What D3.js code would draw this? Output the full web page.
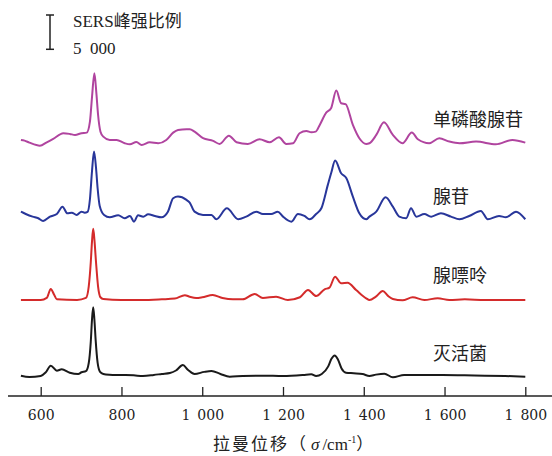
<!DOCTYPE html>
<html>
<head>
<meta charset="utf-8">
<script src="https://cdn.jsdelivr.net/npm/d3@7"></script>
<style>
  body { margin: 0; background: #fff; }
  svg { display: block; }
  .tick line { stroke: #222; stroke-width: 1.3; }
  .tick text { font-family: "DejaVu Serif", serif; font-size: 14px; fill: #222; }
  .label { font-family: "Noto Sans CJK SC", sans-serif; font-size: 18px; fill: #222; }
</style>
</head>
<body>
<svg id="canvas" width="552" height="456"></svg>
<script>
// spectra: [wavenumber, intensity]
const inactivated = [[551,50],[572,-140],[600,0],[612,500],[625,1500],[640,770],[652,980],[672,480],[693,290],[701,540],[712,700],[719,1900],[724,5000],[727,8200],[730,10030],[733,8200],[736,5300],[741,1900],[747,600],[755,300],[770,200],[800,150],[830,100],[853,0],[880,150],[900,300],[920,440],[935,800],[952,1600],[965,880],[981,290],[1005,600],[1023,730],[1045,300],[1068,-100],[1100,0],[1150,50],[1200,0],[1250,150],[1270,250],[1282,0],[1296,290],[1312,1400],[1320,2500],[1328,3000],[1336,2400],[1345,1100],[1356,480],[1375,400],[1397,290],[1414,0],[1430,200],[1451,340],[1472,-190],[1500,150],[1550,150],[1595,150],[1650,100],[1700,50],[1750,0],[1800,-100]];

const adenine = [[551,0],[600,0],[615,300],[625,1600],[633,800],[640,100],[690,0],[712,300],[719,2000],[724,5500],[727,8500],[730,10400],[733,8800],[737,5500],[742,2000],[748,400],[755,150],[800,0],[850,0],[900,100],[932,200],[957,700],[969,480],[985,300],[1000,400],[1026,730],[1050,300],[1076,100],[1100,100],[1130,880],[1150,290],[1183,480],[1212,0],[1242,400],[1262,1460],[1282,580],[1303,1560],[1315,1800],[1329,3400],[1344,2430],[1360,2520],[1381,1460],[1406,250],[1414,0],[1430,500],[1447,1300],[1460,600],[1472,150],[1496,-40],[1521,390],[1550,0],[1583,250],[1612,0],[1650,100],[1700,0],[1750,0],[1800,0]];

const adenosine = [[551,630],[563,290],[580,-100],[594,-340],[606,-730],[623,-100],[640,290],[654,1360],[666,390],[677,480],[689,150],[701,630],[709,480],[716,600],[722,2500],[727,6500],[732,9390],[737,7000],[741,4000],[746,1500],[757,150],[771,-190],[792,100],[808,-340],[821,0],[831,-830],[841,100],[854,-100],[866,250],[883,0],[899,-190],[915,630],[928,2580],[940,2820],[961,2340],[969,1940],[981,630],[1002,150],[1023,150],[1035,-480],[1061,1120],[1089,-480],[1109,-100],[1134,630],[1150,290],[1171,290],[1187,630],[1200,-100],[1221,-830],[1237,290],[1253,0],[1266,-480],[1282,290],[1295,1120],[1311,4530],[1320,6400],[1329,8080],[1344,6230],[1357,5500],[1373,2820],[1389,390],[1406,-480],[1414,-100],[1431,630],[1454,2730],[1472,1360],[1488,-100],[1505,-340],[1517,1120],[1530,-100],[1550,290],[1567,-100],[1591,390],[1616,-100],[1637,-480],[1661,0],[1690,730],[1707,-480],[1735,0],[1752,-190],[1777,630],[1800,-480]];

const amp = [[551,290],[560,190],[572,-100],[598,-540],[615,-50],[631,440],[656,1270],[672,1170],[685,1020],[701,1270],[714,1360],[722,3000],[727,6500],[733,10030],[738,7000],[742,4000],[748,1500],[755,770],[771,290],[788,290],[808,-190],[821,-340],[837,0],[850,-440],[870,-50],[891,-190],[911,290],[928,1360],[940,1750],[961,1850],[969,1850],[981,1500],[1002,540],[1027,150],[1043,-290],[1066,920],[1085,-50],[1113,-290],[1142,390],[1167,-50],[1190,680],[1208,-290],[1225,-190],[1241,1270],[1258,1600],[1270,1410],[1281,1500],[1291,2480],[1307,4270],[1319,4920],[1332,7490],[1344,5640],[1355,5500],[1373,2480],[1389,540],[1406,-290],[1414,-190],[1431,1020],[1450,2870],[1472,1020],[1496,-190],[1519,1360],[1534,390],[1562,-190],[1587,540],[1612,50],[1637,-190],[1678,50],[1727,-340],[1768,290],[1800,-100]];

const seriesNames = ["单磷酸腺苷", "腺苷", "腺嘌呤", "灭活菌"];
const seriesData = [amp, adenosine, adenine, inactivated];
const stackOffset = [34120, 23330, 11080, 0];
const seriesColors = ["#b0449f", "#28369a", "#d42b2b", "#1a1a1a"];
const xTicks = [600, 800, 1000, 1200, 1400, 1600, 1800];
const scaleBarValue = 5000;

const svg = d3.select("#canvas");
const width = 552;

const x = d3.scaleLinear().domain([600, 1800]).range([40.7, 525.3]);
const y = d3.scaleLinear().domain([0, 50000]).range([376, 33]);

const fmt = d3.formatLocale({decimal: ".", thousands: "\u2002", grouping: [3], currency: ["", ""]}).format(",d");

// spectra
const line = d3.line().x(d => x(d[0])).curve(d3.curveMonotoneX);

svg.append("g").selectAll("path")
    .data(seriesData)
    .join("path")
    .attr("fill", "none")
    .attr("stroke", (d, i) => seriesColors[i])
    .attr("stroke-width", 2)
    .attr("stroke-linejoin", "round")
    .attr("d", (d, i) => line.y(p => y(p[1] + stackOffset[i]))(d));

// labels right of each trace
const labelY = [126, 203, 282, 360];
svg.append("g").selectAll("text")
    .data(seriesNames)
    .join("text")
    .attr("class", "label")
    .attr("x", 433)
    .attr("y", (d, i) => labelY[i])
    .text(d => d);

// x axis
const axis = d3.axisBottom(x).tickValues(xTicks).tickSize(-9).tickSizeOuter(0).tickFormat(fmt);
const gx = svg.append("g").attr("transform", "translate(0,396)").call(axis);
gx.select(".domain").remove();
gx.selectAll(".tick text").attr("y", 24).attr("dy", 0);
gx.append("line")
    .attr("x1", 8).attr("x2", width)
    .attr("stroke", "#222").attr("stroke-width", 1.5);

// axis title
const title = svg.append("text")
    .attr("class", "label")
    .attr("x", 213).attr("y", 450)
    .style("font-size", "17px");
title.append("tspan").style("letter-spacing", "2px").text("拉曼位移（");
title.append("tspan").attr("dx", 3)
    .style("font-family", "'Liberation Serif', serif").style("font-style", "italic")
    .text("σ");
title.append("tspan").attr("dx", 3)
    .style("font-family", "'Liberation Serif', serif")
    .text("/cm");
title.append("tspan").attr("dy", -7)
    .style("font-family", "'Liberation Serif', serif").style("font-size", "10px")
    .text("-1");
title.append("tspan").attr("dy", 7).text("）");

// scale bar
const barH = y(0) - y(scaleBarValue);
const barBottom = 49.3;
const bar = svg.append("g").attr("stroke", "#222").attr("stroke-width", 1.5);
bar.append("line").attr("x1", 50).attr("x2", 50).attr("y1", barBottom - barH).attr("y2", barBottom);
bar.append("line").attr("x1", 46).attr("x2", 54).attr("y1", barBottom - barH).attr("y2", barBottom - barH);
bar.append("line").attr("x1", 46).attr("x2", 54).attr("y1", barBottom).attr("y2", barBottom);

svg.append("text")
    .attr("x", 73).attr("y", 27)
    .style("font-family", "'Liberation Serif', 'Noto Sans CJK SC', serif")
    .style("font-size", "17px").attr("fill", "#222")
    .text("SERS峰强比例");
svg.append("text")
    .attr("x", 73).attr("y", 54)
    .style("font-family", "'Liberation Serif', serif")
    .style("font-size", "17px").attr("fill", "#222")
    .text(fmt(scaleBarValue));
</script>
</body>
</html>
